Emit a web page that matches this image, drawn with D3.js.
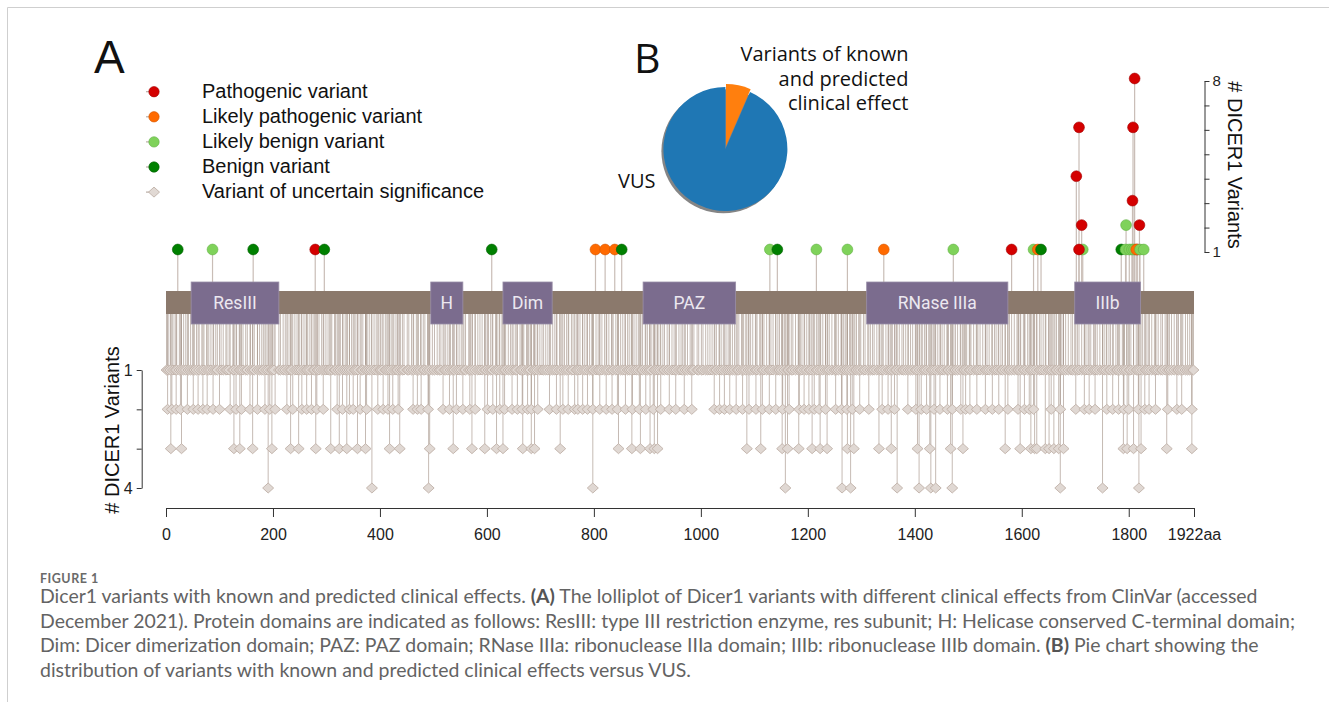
<!DOCTYPE html>
<html><head><meta charset="utf-8">
<script src="https://cdn.jsdelivr.net/npm/d3@7"></script>
<style>body{margin:0;background:#fff;} svg{display:block;}</style>
</head><body><svg id="c" width="1329" height="702"></svg>
<script>
// ---------------- data ----------------
const proteinLength = 1922;
const axisTicks = [0, 200, 400, 600, 800, 1000, 1200, 1400, 1600, 1800, 1922];

const domainNames = ["ResIII", "H", "Dim", "PAZ", "RNase IIIa", "IIIb"];
const domainStart = [47, 495, 630, 892, 1310, 1699];
const domainEnd   = [211, 555, 722, 1065, 1574, 1822];

// variants with known / predicted clinical effect (upper track)
const knownPos   = [22, 87, 163, 279, 296, 609, 803, 821, 839, 852, 1129, 1143, 1216, 1274, 1342, 1472, 1581, 1622, 1630, 1636, 1714, 1707, 1712, 1702, 1707, 1786, 1794, 1801, 1806, 1810, 1816, 1814, 1821, 1828, 1795, 1820, 1807, 1808, 1811];
const knownCount = [1, 1, 1, 1, 1, 1, 1, 1, 1, 1, 1, 1, 1, 1, 1, 1, 1, 1, 1, 1, 1, 1, 2, 4, 6, 1, 1, 1, 1, 1, 1, 1, 1, 1, 2, 2, 3, 6, 8];
const knownType  = ["B","LB","B","P","B","B","LP","LP","LP","B","LB","B","LB","LB","LP","LB","P","LB","LP","B","LB","P","P","P","P","B","LB","LB","LB","LB","P","LP","LB","LB","LB","P","P","P","P"];

// variants of uncertain significance (lower track), positions by count
const vus1 = [1,4,8,13,17,20,25,29,33,37,42,46,50,53,57,62,67,71,76,80,84,89,93,96,
103,107,112,114,118,125,127,132,137,140,144,149,152,158,162,165,171,175,179,182,187,191,196,199,
202,211,214,219,223,228,232,235,241,245,249,253,258,262,265,269,275,278,283,286,291,295,299,
303,306,310,315,317,322,326,331,335,339,343,347,352,355,359,365,368,373,376,380,384,389,393,398,
401,404,410,413,417,421,426,430,433,438,442,445,451,454,459,463,468,472,476,481,484,489,493,498,
502,507,511,514,520,523,527,532,536,539,544,548,552,557,560,566,569,573,578,583,587,591,596,598,
603,607,610,616,619,623,628,632,635,640,644,649,653,656,662,665,669,674,678,681,687,690,694,699,
703,706,710,714,719,723,727,731,736,740,745,749,753,758,761,767,770,774,779,783,787,792,796,799,
804,808,811,815,820,824,828,833,836,841,845,850,854,858,863,866,870,875,879,883,888,891,896,900,
904,907,913,916,920,924,929,932,937,941,946,950,954,959,963,966,971,975,980,984,987,993,996,
1001,1004,1009,1013,1017,1021,1026,1029,1034,1038,1042,1047,1051,1055,1059,1063,1068,1071,1076,1080,1084,1089,1093,1097,
1102,1105,1110,1115,1118,1123,1128,1131,1135,1140,1144,1147,1151,1156,1161,1164,1169,1172,1177,1182,1186,1189,1194,1198,
1203,1206,1211,1216,1219,1224,1228,1233,1237,1240,1245,1250,1253,1257,1262,1267,1270,1274,1278,1283,1288,1291,1295,1299,
1304,1307,1312,1317,1321,1324,1329,1334,1337,1341,1346,1351,1354,1358,1363,1366,1371,1376,1379,1383,1388,1392,1396,
1401,1404,1409,1414,1418,1421,1426,1431,1434,1438,1443,1448,1451,1455,1460,1463,1468,1473,1476,1480,1485,1490,1493,1497,
1502,1505,1510,1515,1518,1522,1527,1532,1535,1539,1544,1549,1552,1556,1561,1564,1569,1574,1577,1581,1586,1591,1594,1598,
1603,1606,1611,1616,1619,1623,1628,1633,1636,1640,1645,1650,1653,1657,1662,1665,1670,1675,1678,1682,1687,1692,1695,1699,
1704,1707,1712,1717,1720,1724,1729,1734,1737,1741,1746,1751,1754,1758,1763,1766,1771,1776,1779,1783,1788,1792,1796,
1801,1804,1809,1814,1817,1821,1826,1831,1834,1838,1843,1848,1851,1855,1860,1863,1868,1873,1876,1880,1885,1890,1893,1897,1901,1906,1910,1914,1918,1921];
const vus2 = [3,11,19,27,40,51,60,69,77,88,100,120,131,141,157,171,185,194,204,226,237,254,263,272,282,294,320,330,343,350,363,375,
396,406,415,424,434,462,470,477,490,518,530,543,555,568,578,601,611,624,633,647,657,666,676,683,695,717,730,742,752,764,
770,779,788,798,811,823,834,844,859,872,885,897,911,925,941,953,969,983,1025,1035,1044,1054,1066,1078,1090,1103,1115,1128,1140,1153,
1165,1184,1193,1202,1212,1221,1233,1252,1263,1273,1283,1297,1314,1339,1350,1362,1387,1402,1412,1422,1436,1447,1461,1470,1486,1495,1503,1516,1532,
1545,1557,1574,1593,1605,1614,1622,1655,1672,1701,1717,1726,1737,1759,1770,1781,1791,1800,1818,1830,1838,1850,1873,1890,1899,1918];
const vus3 = [9,29,127,138,162,198,233,248,280,308,324,338,358,373,418,437,493,537,572,596,618,630,667,683,689,737,
846,871,887,905,913,919,1086,1112,1152,1162,1183,1208,1223,1236,1274,1286,1333,1356,1405,1428,1467,1490,
1569,1597,1617,1624,1628,1644,1651,1660,1669,1678,1790,1797,1809,1823,1871,1918];
const vus4 = [191,385,491,798,1158,1264,1280,1367,1408,1430,1439,1470,1672,1751,1819];

const legendLabels = ["Pathogenic variant", "Likely pathogenic variant", "Likely benign variant", "Benign variant", "Variant of uncertain significance"];
const legendKeys = ["P", "LP", "LB", "B", "VUS"];

const pieLabels = ["Variants of known and predicted clinical effect", "VUS"];
const pieValues = [6.5, 93.5];

const captionTitle = "FIGURE 1";

// ---------------- styles ----------------
const fillColor = {P: "#d40000", LP: "#ff6a00", LB: "#7fd25a", B: "#008000"};
const strokeColor = {P: "#a30000", LP: "#d35500", LB: "#62b043", B: "#006000"};

const svg = d3.select("#c");

// frame
svg.append("line").attr("x1", 7.5).attr("x2", 1329).attr("y1", 7.5).attr("y2", 7.5).attr("stroke", "#cfcfcf");
svg.append("line").attr("x1", 7.5).attr("x2", 7.5).attr("y1", 7.5).attr("y2", 702).attr("stroke", "#cfcfcf");

const x = d3.scaleLinear().domain([0, proteinLength]).range([166, 1194]);
const yTop = d3.scaleLinear().domain([1, 8]).range([249.5, 78.5]);
const yLow = d3.scaleLinear().domain([1, 4]).range([370, 488]);
const barTop = 291, barBot = 314, barMid = 302.5;

const vus = [];
[[vus1, 1], [vus2, 2], [vus3, 3], [vus4, 4]].forEach(([arr, c]) => arr.forEach(p => vus.push({pos: p, count: c})));
vus.sort((a, b) => a.pos - b.pos);

const known = knownPos.map((p, i) => ({pos: p, count: knownCount[i], type: knownType[i]}));

// lower stems
svg.append("g").selectAll("line").data(vus).join("line")
  .attr("x1", d => x(d.pos)).attr("x2", d => x(d.pos))
  .attr("y1", barMid).attr("y2", d => yLow(d.count))
  .attr("stroke", "#a19084").attr("stroke-opacity", 0.62).attr("stroke-width", 1);

// upper stems
svg.append("g").selectAll("line").data(known).join("line")
  .attr("x1", d => x(d.pos)).attr("x2", d => x(d.pos))
  .attr("y1", barMid).attr("y2", d => yTop(d.count))
  .attr("stroke", "#c9bdb6").attr("stroke-width", 1.2);

// protein backbone
svg.append("rect").attr("x", x(0)).attr("y", barTop).attr("width", x(proteinLength) - x(0)).attr("height", barBot - barTop)
  .attr("fill", "#8b796c");

// domains
const dom = svg.append("g").selectAll("g").data(domainNames).join("g");
dom.append("rect")
  .attr("x", (d, i) => x(domainStart[i])).attr("y", 282)
  .attr("width", (d, i) => x(domainEnd[i]) - x(domainStart[i])).attr("height", 42)
  .attr("fill", "#7b6c8e").attr("stroke", "#9a8fa8").attr("stroke-width", 0.8);
dom.append("text")
  .attr("x", (d, i) => (x(domainStart[i]) + x(domainEnd[i])) / 2).attr("y", 303)
  .attr("text-anchor", "middle").attr("dominant-baseline", "central")
  .attr("font-family", "Roboto, 'Liberation Sans', sans-serif").attr("font-size", 17.5)
  .attr("fill", "#ece8f0").text(d => d);

// diamonds
const diamond = (cx, cy) => `M${cx - 5.5},${cy}L${cx},${cy - 5}L${cx + 5.5},${cy}L${cx},${cy + 5}Z`;
svg.append("g").selectAll("path").data(vus).join("path")
  .attr("d", d => diamond(x(d.pos), yLow(d.count)))
  .attr("fill", "#e0d8d3").attr("stroke", "#bfb1a8").attr("stroke-width", 0.9);

// circles
svg.append("g").selectAll("circle").data(known).join("circle")
  .attr("cx", d => x(d.pos)).attr("cy", d => yTop(d.count)).attr("r", 5.4)
  .attr("fill", d => fillColor[d.type]).attr("stroke", d => strokeColor[d.type]).attr("stroke-width", 0.6);

// bottom axis
const gx = svg.append("g").attr("transform", "translate(0,508)")
  .call(d3.axisBottom(x).tickValues(axisTicks).tickSize(9).tickSizeOuter(0).tickPadding(12)
    .tickFormat(d => d === proteinLength ? "1922aa" : d));
gx.selectAll("text").attr("font-family", "'Liberation Sans', Arial, sans-serif").attr("font-size", 16).attr("fill", "#222");
gx.selectAll("line,path").attr("stroke", "#333");

// left axis
const gl = svg.append("g").attr("transform", "translate(141.7,0)")
  .call(d3.axisLeft(yLow).tickValues([1, 2, 3, 4]).tickSize(5).tickSizeOuter(0).tickPadding(4)
    .tickFormat(d => (d === 1 || d === 4) ? d : ""));
gl.selectAll("text").attr("font-family", "'Liberation Sans', Arial, sans-serif").attr("font-size", 16).attr("fill", "#222");
gl.selectAll("line,path").attr("stroke", "#333");

// right axis
const gr = svg.append("g").attr("transform", "translate(1204.5,2.5)")
  .call(d3.axisRight(yTop).tickValues([1, 2, 3, 4, 5, 6, 7, 8]).tickSize(5).tickSizeOuter(0).tickPadding(3)
    .tickFormat(d => (d === 1 || d === 8) ? d : ""));
gr.selectAll("text").attr("font-family", "'Liberation Sans', Arial, sans-serif").attr("font-size", 15).attr("fill", "#222");
gr.selectAll("line,path").attr("stroke", "#333");

// axis titles
svg.append("text").attr("transform", "translate(1235,165) rotate(90)")
  .attr("text-anchor", "middle").attr("dominant-baseline", "central")
  .attr("font-family", "'Liberation Sans', Arial, sans-serif").attr("font-size", 20).attr("fill", "#111")
  .text("# DICER1 Variants");
svg.append("text").attr("transform", "translate(112,430) rotate(-90)")
  .attr("text-anchor", "middle").attr("dominant-baseline", "central")
  .attr("font-family", "'Liberation Sans', Arial, sans-serif").attr("font-size", 20).attr("fill", "#111")
  .text("# DICER1 Variants");

// panel letters
svg.append("text").attr("x", 94).attr("y", 73).attr("font-family", "'Liberation Sans', Arial, sans-serif")
  .attr("font-size", 46).attr("fill", "#111").text("A");
svg.append("text").attr("x", 634).attr("y", 73).attr("font-family", "'Open Sans', sans-serif")
  .attr("font-size", 41).attr("fill", "#111").text("B");

// legend
const lg = svg.append("g").selectAll("g").data(legendLabels).join("g")
  .attr("transform", (d, i) => `translate(0,${91.7 + i * 25.1})`);
lg.append("line").attr("x1", 146).attr("x2", 154).attr("y1", 0).attr("y2", 0).attr("stroke", "#b9aca4").attr("stroke-width", 1.2);
lg.each(function (d, i) {
  const g = d3.select(this), k = legendKeys[i];
  if (k === "VUS") g.append("path").attr("d", diamond(154, 0)).attr("fill", "#e1d9d4").attr("stroke", "#c4b7ae");
  else g.append("circle").attr("cx", 154).attr("cy", 0).attr("r", 5.2).attr("fill", fillColor[k]).attr("stroke", strokeColor[k]).attr("stroke-width", 0.6);
});
lg.append("text").attr("x", 202).attr("y", 6).attr("font-family", "'Liberation Sans', Arial, sans-serif")
  .attr("font-size", 20).attr("fill", "#111").text(d => d);

// pie
const pcx = 725.4, pcy = 149, pr = 62;
const pie = d3.pie().sort(null).value(d => d)(pieValues);
const arc = d3.arc().innerRadius(0).outerRadius(pr);
const pg = svg.append("g").attr("transform", `translate(${pcx},${pcy})`);
pg.append("circle").attr("cx", -2).attr("cy", 2.2).attr("r", pr).attr("fill", "#858585");
const pieColors = ["#ff7f0e", "#1f77b4"];
pg.selectAll("path").data(pie).join("path")
  .attr("d", arc)
  .attr("fill", (d, i) => pieColors[i])
  .attr("transform", (d, i) => {
    if (i !== 0) return null;
    const a = (d.startAngle + d.endAngle) / 2;
    return `translate(${Math.sin(a) * 3},${-Math.cos(a) * 3})`;
  });

const pieLab = svg.append("text").attr("font-family", "'Open Sans', sans-serif").attr("font-size", 20)
  .attr("fill", "#111").attr("text-anchor", "end");
["Variants of known", "and predicted", "clinical effect"].forEach((t, i) =>
  pieLab.append("tspan").attr("x", 908.5).attr("y", 61 + i * 24.5).text(t));
svg.append("text").attr("x", 618).attr("y", 188).attr("font-family", "'Open Sans', sans-serif")
  .attr("font-size", 20).attr("fill", "#111").text(pieLabels[1]);

// caption
svg.append("text").attr("x", 40).attr("y", 583).attr("font-family", "Lato, 'Open Sans', sans-serif")
  .attr("font-size", 12.5).attr("font-weight", 700).attr("letter-spacing", 0.5).attr("fill", "#6a6a6a").text(captionTitle);

const capLines = [
  [["Dicer1 variants with known and predicted clinical effects. ", 0], ["(A)", 1], [" The lolliplot of Dicer1 variants with different clinical effects from ClinVar (accessed", 0]],
  [["December 2021). Protein domains are indicated as follows: ResIII: type III restriction enzyme, res subunit; H: Helicase conserved C-terminal domain;", 0]],
  [["Dim: Dicer dimerization domain; PAZ: PAZ domain; RNase IIIa: ribonuclease IIIa domain; IIIb: ribonuclease IIIb domain. ", 0], ["(B)", 1], [" Pie chart showing the", 0]],
  [["distribution of variants with known and predicted clinical effects versus VUS.", 0]]
];
const capNodes = capLines.map((parts, i) => {
  const t = svg.append("text").attr("x", 40).attr("y", 603 + i * 24.6)
    .attr("font-family", "Lato, 'Open Sans', sans-serif").attr("font-size", 17).attr("fill", "#636363");
  parts.forEach(([s, b]) => t.append("tspan").attr("font-weight", b ? 700 : 400).attr("fill", b ? "#555" : null).text(s));
  return t;
});
// fit caption font to the reference width of line 2
const w2 = capNodes[1].node().getComputedTextLength();
const fs = 17 * 1256 / w2;
capNodes.forEach(t => t.attr("font-size", fs));
</script></body></html>
